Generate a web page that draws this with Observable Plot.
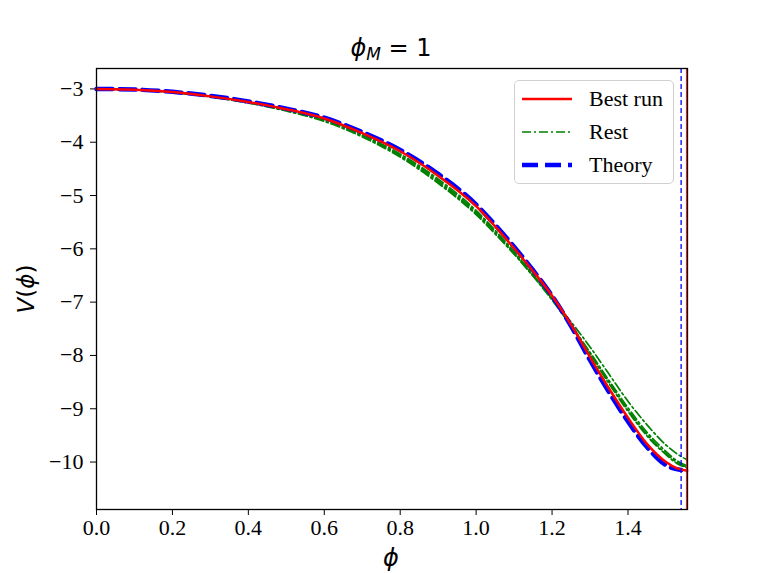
<!DOCTYPE html>
<html>
<head>
<meta charset="utf-8">
<script src="https://cdn.jsdelivr.net/npm/d3@7"></script>
<script src="https://cdn.jsdelivr.net/npm/@observablehq/plot@0.6"></script>
<style>
  html, body { margin: 0; padding: 0; background: white; }
  #wrap { position: relative; width: 764px; height: 573px; }
  #legend {
    position: absolute; left: 514px; top: 80px; width: 160px; height: 104px;
    border: 1px solid #d0d0d0; border-radius: 5px; background: rgba(255,255,255,0.85);
    box-sizing: border-box; font-family: "Liberation Serif", "Times New Roman", serif; font-size: 22px;
  }
  #legend .row { position: absolute; left: 0; height: 30px; display: flex; align-items: center; }
  #legend svg { margin-left: 7px; margin-right: 17px; }
</style>
</head>
<body>
<div id="wrap"></div>
<script>
// ---- data ----
const phiGrid = [0, 0.1, 0.2, 0.3, 0.4, 0.5, 0.6, 0.7, 0.8, 0.9, 1.0, 1.05, 1.1, 1.15, 1.2, 1.25, 1.3, 1.35, 1.4, 1.45, 1.5, 1.53, 1.556];
const bestRun = [-3.0, -3.015, -3.06, -3.14, -3.245, -3.38, -3.555, -3.83, -4.17, -4.63, -5.2, -5.58, -5.99, -6.42, -6.88, -7.42, -8.03, -8.62, -9.17, -9.66, -10.0, -10.12, -10.165];
const phiTheory = [0, 0.1, 0.2, 0.3, 0.4, 0.5, 0.6, 0.7, 0.8, 0.9, 1.0, 1.05, 1.1, 1.15, 1.2, 1.25, 1.3, 1.35, 1.4, 1.45, 1.5, 1.54];
const theory = [-3.0, -3.012, -3.055, -3.13, -3.235, -3.37, -3.54, -3.81, -4.145, -4.595, -5.17, -5.55, -5.96, -6.40, -6.88, -7.45, -8.09, -8.69, -9.24, -9.72, -10.06, -10.15];
const restRun1 = [-3.0, -3.017, -3.065, -3.15, -3.265, -3.415, -3.61, -3.9, -4.28, -4.77, -5.36, -5.72, -6.10, -6.51, -6.93, -7.37, -7.84, -8.35, -8.86, -9.30, -9.68, -9.85, -9.96];
const restRun2 = [-3.0, -3.016, -3.063, -3.146, -3.255, -3.4, -3.58, -3.87, -4.24, -4.72, -5.31, -5.67, -6.07, -6.50, -6.95, -7.43, -7.94, -8.47, -8.98, -9.44, -9.80, -9.98, -10.07];
const restRun3 = [-3.0, -3.016, -3.062, -3.145, -3.252, -3.395, -3.57, -3.86, -4.22, -4.69, -5.28, -5.65, -6.05, -6.48, -6.94, -7.44, -7.98, -8.53, -9.05, -9.51, -9.86, -10.03, -10.11];
const restRun4 = [-3.0, -3.016, -3.064, -3.148, -3.26, -3.405, -3.59, -3.88, -4.26, -4.75, -5.34, -5.70, -6.09, -6.51, -6.96, -7.45, -7.96, -8.50, -9.02, -9.48, -9.84, -10.01, -10.10];
const restRuns = [restRun1, restRun2, restRun3, restRun4];
const phiEndTheory = 1.54;
const phiEndRun = 1.554;
const xTicks = [0, 0.2, 0.4, 0.6, 0.8, 1.0, 1.2, 1.4];
const yTicks = [-3, -4, -5, -6, -7, -8, -9, -10];
const legendLabels = ["Best run", "Rest", "Theory"];

// ---- tables ----
const bestData = phiGrid.map((p, i) => ({phi: p, V: bestRun[i]}));
const theoryData = phiTheory.map((p, i) => ({phi: p, V: theory[i]}));
const restData = restRuns.flatMap((r, k) => phiGrid.map((p, i) => ({phi: p, V: r[i], run: k})));

const chart = Plot.plot({
  width: 764, height: 573,
  marginLeft: 96, marginRight: 77, marginTop: 68, marginBottom: 64,
  style: {fontFamily: "'Liberation Serif', 'Times New Roman', serif", fontSize: "22px", color: "black", background: "white"},
  x: {domain: [0, 1.5568], ticks: xTicks, tickFormat: d => d.toFixed(1), label: null, tickSize: 6, tickPadding: 4},
  y: {domain: [-10.89, -2.617], ticks: yTicks, tickFormat: d => String(d).replace("-", "\u2212"), label: null, tickSize: 6, tickPadding: 7},
  marks: [
    Plot.line(restData, {x: "phi", y: "V", z: "run", stroke: "green", strokeWidth: 1.7, strokeDasharray: "9,3,2,3", curve: "monotone-x"}),
    Plot.line(theoryData, {x: "phi", y: "V", stroke: "blue", strokeWidth: 4.5, strokeDasharray: "16,7", curve: "monotone-x"}),
    Plot.line(bestData, {x: "phi", y: "V", stroke: "red", strokeWidth: 2.5, curve: "monotone-x"}),
    Plot.ruleX([phiEndTheory], {stroke: "blue", strokeWidth: 1.3, strokeDasharray: "5,3"}),
    Plot.ruleX([phiEndRun], {stroke: "red", strokeWidth: 0.9}),
    Plot.frame({stroke: "black", strokeWidth: 1.3})
  ]
});

const wrap = document.getElementById("wrap");
wrap.appendChild(chart);

const svg = d3.select(chart);
// title
const t = svg.append("text")
  .attr("x", 391).attr("y", 56).attr("text-anchor", "middle")
  .style("font-family", "'DejaVu Sans', sans-serif").style("font-size", "24px").attr("fill", "black");
t.append("tspan").style("font-style", "italic").text("\u03D5");
t.append("tspan").style("font-style", "italic").style("font-size", "17px").attr("dy", 4).text("M");
t.append("tspan").attr("dy", -4).text(" = 1");
// x label
svg.append("text")
  .attr("x", 391).attr("y", 566).attr("text-anchor", "middle")
  .style("font-family", "'DejaVu Sans', sans-serif").style("font-size", "24px").style("font-style", "italic")
  .attr("fill", "black").text("\u03D5");
// y label
const yl = svg.append("text")
  .attr("transform", "translate(34,289) rotate(-90)").attr("text-anchor", "middle")
  .style("font-family", "'DejaVu Sans', sans-serif").style("font-size", "23px").attr("fill", "black");
yl.append("tspan").style("font-style", "italic").text("V");
yl.append("tspan").text("(");
yl.append("tspan").style("font-style", "italic").text("\u03D5");
yl.append("tspan").text(")");

// legend
const legend = document.createElement("div");
legend.id = "legend";
const styles = [
  {stroke: "red", width: 2.5, dash: null},
  {stroke: "green", width: 1.7, dash: "9,3,2,3"},
  {stroke: "blue", width: 4.5, dash: "16,7"}
];
legendLabels.forEach((lab, i) => {
  const row = document.createElement("div");
  row.className = "row";
  row.style.top = (3 + i * 33) + "px";
  const s = styles[i];
  row.innerHTML = `<svg width="50" height="12"><line x1="0" x2="50" y1="6" y2="6" stroke="${s.stroke}" stroke-width="${s.width}" ${s.dash ? `stroke-dasharray="${s.dash}"` : ""}/></svg><span>${lab}</span>`;
  legend.appendChild(row);
});
wrap.appendChild(legend);
</script>
</body>
</html>
